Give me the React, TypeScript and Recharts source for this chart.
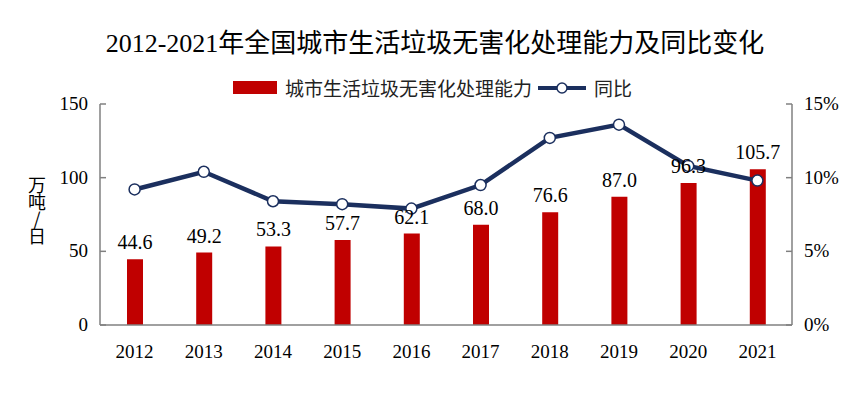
import React from 'react';
import {
  ComposedChart,
  Bar,
  Line,
  XAxis,
  YAxis,
  LabelList,
} from 'recharts';

const years = ['2012', '2013', '2014', '2015', '2016', '2017', '2018', '2019', '2020', '2021'];
const capacity = [44.6, 49.2, 53.3, 57.7, 62.1, 68.0, 76.6, 87.0, 96.3, 105.7];
const yoy = [9.2, 10.4, 8.4, 8.2, 7.9, 9.5, 12.7, 13.6, 10.8, 9.8];
const leftTicks = [0, 50, 100, 150];
const rightTicks = [0, 5, 10, 15];

const data = years.map((year, i) => ({ year, capacity: capacity[i], yoy: yoy[i] }));

const SERIF = '"Liberation Serif", "Times New Roman", "Noto Sans CJK SC", serif';
const CJK = '"Noto Sans CJK SC", sans-serif';
const RED = '#C00000';
const NAVY = '#1B2F5E';
const AXIS = '#808080';

// ticks point inward, labels sit outside the axis
const LeftTick = (props: any) => {
  const { x, y, payload } = props;
  return (
    <g>
      <line x1={x + 8} y1={y} x2={x + 14} y2={y} stroke={AXIS} strokeWidth={1.5} />
      <text x={x - 4} y={y} dy={6} textAnchor="end" fontFamily={SERIF} fontSize={19} fill="#000">
        {payload.value}
      </text>
    </g>
  );
};

const RightTick = (props: any) => {
  const { x, y, payload } = props;
  return (
    <g>
      <line x1={x - 8} y1={y} x2={x - 14} y2={y} stroke={AXIS} strokeWidth={1.5} />
      <text x={x + 4} y={y} dy={6} textAnchor="start" fontFamily={SERIF} fontSize={19} fill="#000">
        {payload.value}%
      </text>
    </g>
  );
};

export default function App() {
  return (
    <div style={{ position: 'absolute', left: 0, top: 0, width: 865, height: 393, background: '#fff' }}>
      <div
        style={{
          position: 'absolute',
          left: 0,
          top: 22,
          width: 870,
          textAlign: 'center',
          fontFamily: SERIF,
          fontSize: 26,
          color: '#000',
        }}
      >
        2012-2021年全国城市生活垃圾无害化处理能力及同比变化
      </div>
      <div
        style={{
          position: 'absolute',
          left: 0,
          top: 74,
          width: 865,
          display: 'flex',
          justifyContent: 'center',
          alignItems: 'center',
          fontFamily: CJK,
          fontSize: 19,
          color: '#222',
        }}
      >
        <span style={{ display: 'inline-block', width: 44, height: 13, background: RED, marginRight: 8 }} />
        <span>城市生活垃圾无害化处理能力</span>
        <svg width={52} height={14} style={{ margin: '0 6px 0 4px' }}>
          <line x1={2} y1={7} x2={50} y2={7} stroke={NAVY} strokeWidth={4} />
          <circle cx={26} cy={7} r={5} fill="#fff" stroke={NAVY} strokeWidth={1.5} />
        </svg>
        <span>同比</span>
      </div>
      <div
        style={{
          position: 'absolute',
          left: 24,
          top: 176,
          writingMode: 'vertical-rl',
          textOrientation: 'upright',
          fontFamily: CJK,
          fontSize: 18,
          letterSpacing: -1,
          color: '#000',
        }}
      >
        万吨/日
      </div>
      <ComposedChart
        width={865}
        height={393}
        data={data}
        margin={{ top: 104, right: 13, bottom: 38, left: 40 }}
        style={{ position: 'absolute', left: 0, top: 0 }}
      >
        <XAxis
          dataKey="year"
          axisLine={{ stroke: AXIS, strokeWidth: 1.5 }}
          tickLine={false}
          tickMargin={14}
          tick={{ fontFamily: SERIF, fontSize: 19, fill: '#000' }}
        />
        <YAxis
          yAxisId="left"
          orientation="left"
          domain={[0, 150]}
          ticks={leftTicks}
          width={60}
          tickSize={0}
          tickMargin={8}
          axisLine={{ stroke: AXIS, strokeWidth: 1.5 }}
          tickLine={false}
          tick={<LeftTick />}
        />
        <YAxis
          yAxisId="right"
          orientation="right"
          domain={[0, 15]}
          ticks={rightTicks}
          width={60}
          tickSize={0}
          tickMargin={8}
          axisLine={{ stroke: AXIS, strokeWidth: 1.5 }}
          tickLine={false}
          tick={<RightTick />}
        />
        <Bar yAxisId="left" dataKey="capacity" fill={RED} barSize={16} isAnimationActive={false}>
          <LabelList
            dataKey="capacity"
            position="top"
            offset={10}
            formatter={(v: number) => v.toFixed(1)}
            style={{ fontFamily: SERIF, fontSize: 20, fill: '#000' }}
          />
        </Bar>
        <Line
          yAxisId="right"
          dataKey="yoy"
          stroke={NAVY}
          strokeWidth={4.5}
          dot={{ r: 5.5, fill: '#fff', stroke: NAVY, strokeWidth: 1.5 }}
          isAnimationActive={false}
        />
      </ComposedChart>
    </div>
  );
}
